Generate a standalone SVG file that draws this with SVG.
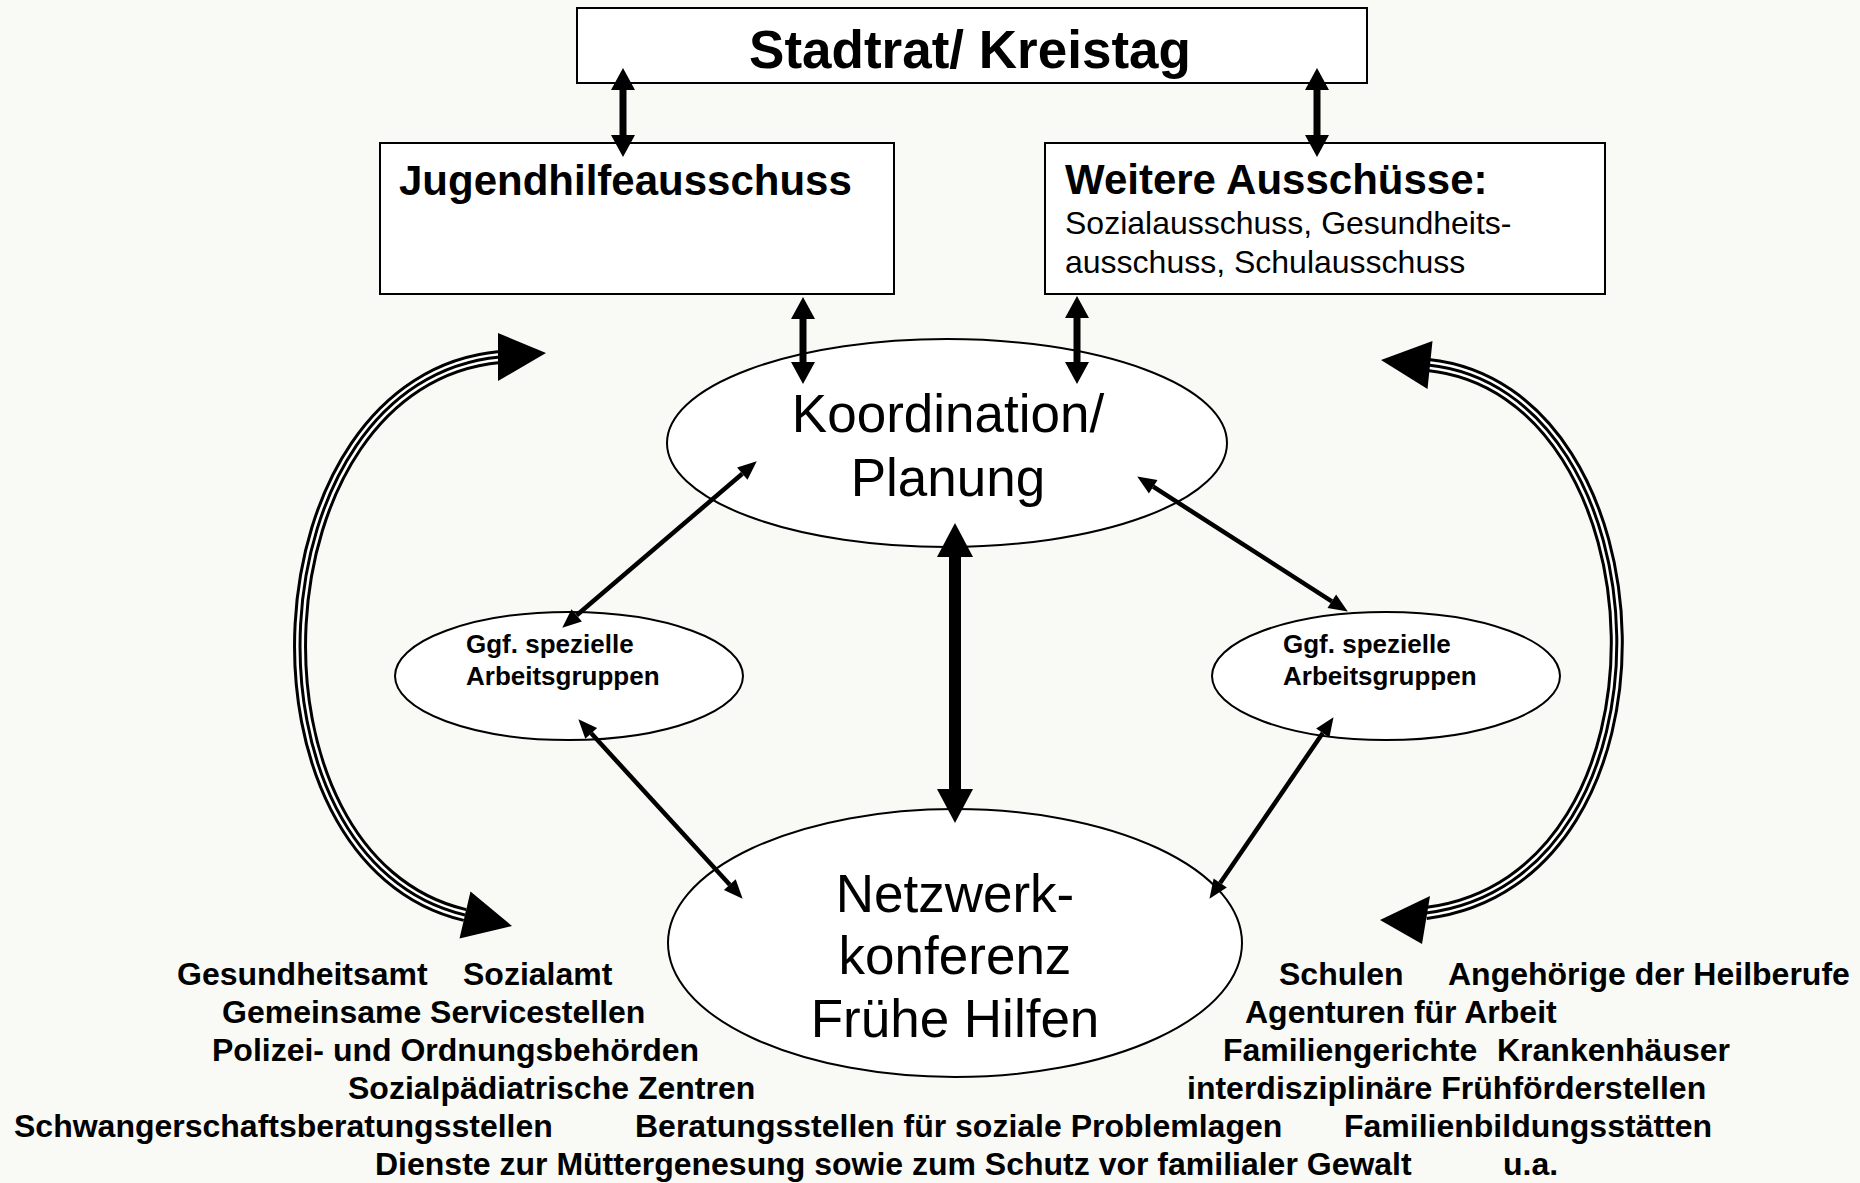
<svg xmlns="http://www.w3.org/2000/svg" width="1860" height="1183" viewBox="0 0 1860 1183">
  <style>
    .box { fill: #ffffff; stroke: #000000; stroke-width: 2; }
    .ell { fill: #ffffff; stroke: #000000; stroke-width: 2; }
    .t { font-family: "Liberation Sans", Arial, sans-serif; fill: #000000; }
    .b { font-weight: bold; }
    .big { font-size: 53px; }
    .h42 { font-size: 42px; }
    .r32 { font-size: 32px; }
    .s26 { font-size: 26px; font-weight: bold; }
    .lbl { font-size: 32px; font-weight: bold; }
    .thin { stroke: #000; stroke-width: 7; fill: none; marker-start: url(#hThin); marker-end: url(#hThin); }
    .thick { stroke: #000; stroke-width: 12; fill: none; marker-start: url(#hThick); marker-end: url(#hThick); }
    .diag { stroke: #000; stroke-width: 4.5; fill: none; marker-start: url(#hDiag); marker-end: url(#hDiag); }
    .tri1 { stroke: #000; stroke-width: 14; fill: none; }
    .tri2 { stroke: #fff; stroke-width: 8; fill: none; }
    .tri3 { stroke: #000; stroke-width: 3; fill: none; }
    .head { fill: #000; }
  </style>
  <defs>
    <marker id="hThin" markerUnits="userSpaceOnUse" viewBox="0 -12 22 24" refX="0" refY="0" markerWidth="22" markerHeight="24" orient="auto-start-reverse" overflow="visible">
      <path d="M0,-12 L22,0 L0,12 Z" fill="#000"/>
    </marker>
    <marker id="hThick" markerUnits="userSpaceOnUse" viewBox="0 -18 34 36" refX="0" refY="0" markerWidth="34" markerHeight="36" orient="auto-start-reverse" overflow="visible">
      <path d="M0,-18 L34,0 L0,18 Z" fill="#000"/>
    </marker>
    <marker id="hDiag" markerUnits="userSpaceOnUse" viewBox="0 -8 19 16" refX="0" refY="0" markerWidth="19" markerHeight="16" orient="auto-start-reverse" overflow="visible">
      <path d="M0,-8 L19,0 L0,8 Z" fill="#000"/>
    </marker>
    <path id="curveL" d="M 500 357 C 250 380, 230 860, 465 915"/>
    <path id="curveR" d="M 1428 365 C 1670 390, 1690 880, 1426 913"/>
  </defs>

  <rect x="0" y="0" width="1860" height="1183" fill="#f9faf5"/>

  <g id="stadtrat">
    <rect class="box" x="577" y="8" width="790" height="75"/>
    <text class="t b" x="970" y="68" font-size="53" text-anchor="middle">Stadtrat/ Kreistag</text>
  </g>

  <g id="jugendhilfeausschuss">
    <rect class="box" x="380" y="143" width="514" height="151"/>
    <text class="t b h42" x="399" y="195">Jugendhilfeausschuss</text>
  </g>

  <g id="weitere-ausschuesse">
    <rect class="box" x="1045" y="143" width="560" height="151"/>
    <text class="t b h42" x="1065" y="194">Weitere Ausschüsse:</text>
    <text class="t r32" x="1065" y="234">Sozialausschuss, Gesundheits-</text>
    <text class="t r32" x="1065" y="273">ausschuss, Schulausschuss</text>
  </g>

  <g id="koordination">
    <ellipse class="ell" cx="947" cy="443" rx="280" ry="104"/>
    <text class="t big" x="948" y="432" text-anchor="middle">Koordination/</text>
    <text class="t big" x="948" y="496" text-anchor="middle">Planung</text>
  </g>

  <g id="ag-links">
    <ellipse class="ell" cx="569" cy="676" rx="174" ry="64"/>
    <text class="t s26" x="466" y="653">Ggf. spezielle</text>
    <text class="t s26" x="466" y="685">Arbeitsgruppen</text>
  </g>

  <g id="ag-rechts">
    <ellipse class="ell" cx="1386" cy="676" rx="174" ry="64"/>
    <text class="t s26" x="1283" y="653">Ggf. spezielle</text>
    <text class="t s26" x="1283" y="685">Arbeitsgruppen</text>
  </g>

  <g id="netzwerkkonferenz">
    <ellipse class="ell" cx="955" cy="943" rx="287" ry="134"/>
    <text class="t big" x="955" y="912" text-anchor="middle">Netzwerk-</text>
    <text class="t big" x="955" y="974" text-anchor="middle">konferenz</text>
    <text class="t big" x="955" y="1037" text-anchor="middle">Frühe Hilfen</text>
  </g>

  <g id="akteure">
    <text class="t lbl" x="177" y="985">Gesundheitsamt</text>
    <text class="t lbl" x="463" y="985">Sozialamt</text>
    <text class="t lbl" x="222" y="1023">Gemeinsame Servicestellen</text>
    <text class="t lbl" x="212" y="1061">Polizei- und Ordnungsbehörden</text>
    <text class="t lbl" x="348" y="1099">Sozialpädiatrische Zentren</text>
    <text class="t lbl" x="14" y="1137">Schwangerschaftsberatungsstellen</text>
    <text class="t lbl" x="635" y="1137">Beratungsstellen für soziale Problemlagen</text>
    <text class="t lbl" x="1344" y="1137">Familienbildungsstätten</text>
    <text class="t lbl" x="375" y="1175">Dienste zur Müttergenesung sowie zum Schutz vor familialer Gewalt</text>
    <text class="t lbl" x="1503" y="1175">u.a.</text>
    <text class="t lbl" x="1279" y="985">Schulen</text>
    <text class="t lbl" x="1448" y="985">Angehörige der Heilberufe</text>
    <text class="t lbl" x="1245" y="1023">Agenturen für Arbeit</text>
    <text class="t lbl" x="1223" y="1061">Familiengerichte</text>
    <text class="t lbl" x="1497" y="1061">Krankenhäuser</text>
    <text class="t lbl" x="1187" y="1099">interdisziplinäre Frühförderstellen</text>
  </g>

  <g id="connectors">
    <line class="thin" x1="623" y1="90" x2="623" y2="135"/>
    <line class="thin" x1="1317" y1="90" x2="1317" y2="135"/>
    <line class="thin" x1="803" y1="319" x2="803" y2="362"/>
    <line class="thin" x1="1077" y1="318" x2="1077" y2="362"/>
    <line class="thick" x1="955" y1="557" x2="955" y2="789"/>
    <line class="diag" x1="742.3" y1="473.7" x2="576.7" y2="615.3"/>
    <line class="diag" x1="591.2" y1="733.3" x2="729.8" y2="884.7"/>
    <line class="diag" x1="1153.2" y1="486.7" x2="1331.8" y2="601.3"/>
    <line class="diag" x1="1322.8" y1="732.9" x2="1220.2" y2="883.1"/>

    <use href="#curveL" class="tri1"/>
    <use href="#curveL" class="tri2"/>
    <use href="#curveL" class="tri3"/>
    <polygon class="head" points="546,353 498,333 498,381"/>
    <polygon class="head" points="512,926 470.5,891.6 459.5,938.4"/>

    <use href="#curveR" class="tri1"/>
    <use href="#curveR" class="tri2"/>
    <use href="#curveR" class="tri3"/>
    <polygon class="head" points="1381,360 1432.5,341 1427.5,389"/>
    <polygon class="head" points="1380,920 1430,896 1422,944"/>
  </g>
</svg>
